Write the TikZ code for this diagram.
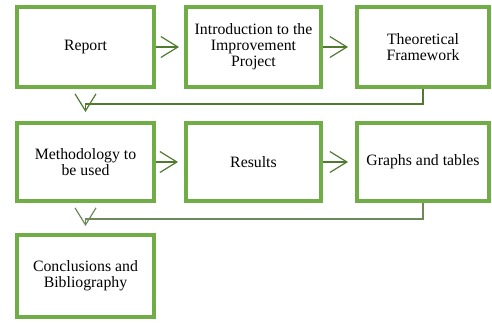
\documentclass[tikz,border=0pt]{standalone}
\usepackage{fontspec}
\setmainfont{Liberation Serif}
\usetikzlibrary{arrows.meta}
\definecolor{boxgreen}{HTML}{70AD47}
\definecolor{arrowgreen}{HTML}{4F7A30}
\definecolor{loopgreen}{HTML}{6C8A59}

\begin{document}
\begin{tikzpicture}[x=1bp,y=-1bp,
    stage/.style={draw=boxgreen,line width=4bp,minimum width=136bp,minimum height=80bp,
        inner sep=0pt,align=center,font=\fontsize{15.8bp}{16bp}\selectfont},
    flow/.style={draw=arrowgreen,line width=1.2bp,-{Straight Barb[length=17bp,width=21bp]}}]

\useasboundingbox (0,0) rectangle (492,323);

	% first row
	\node[stage,minimum width=137bp] (report) at (85.5,47) {Report};
	\node[stage,minimum width=135bp] (intro) at (253.5,47) {Introduction to the\\Improvement\\Project};
	\node[stage,minimum width=132bp] (theory) at (423,47) {Theoretical\\Framework};
	% second row
	\node[stage,minimum width=137bp,minimum height=78bp] (method) at (85.5,162) {Methodology to\\be used};
	\node[stage,minimum width=135bp,minimum height=78bp] (results) at (253.5,162) {Results};
	\node[stage,minimum width=132bp,minimum height=78bp] (graphs) at (423,162) {Graphs and tables};
	% third row
	\node[stage,minimum width=137bp,minimum height=82bp] (concl) at (85.5,276) {Conclusions and\\Bibliography};

	\draw[flow,shorten >=5bp] (report) -- (intro);
	\draw[flow,shorten >=7bp] (intro) -- (theory);
	\draw[flow,shorten >=6bp] (method) -- (results);
	\draw[flow,shorten >=7bp] (results) -- (graphs);

	\coordinate (back1) at (85.5,104);
	\coordinate (back2) at (85.5,219);
	\draw[flow,shorten >=9bp] (theory.south) |- (back1) -- (method.north);
	\draw[flow,draw=loopgreen,shorten >=7bp] (graphs.south) |- (back2) -- (concl.north);

\end{tikzpicture}
\end{document}
